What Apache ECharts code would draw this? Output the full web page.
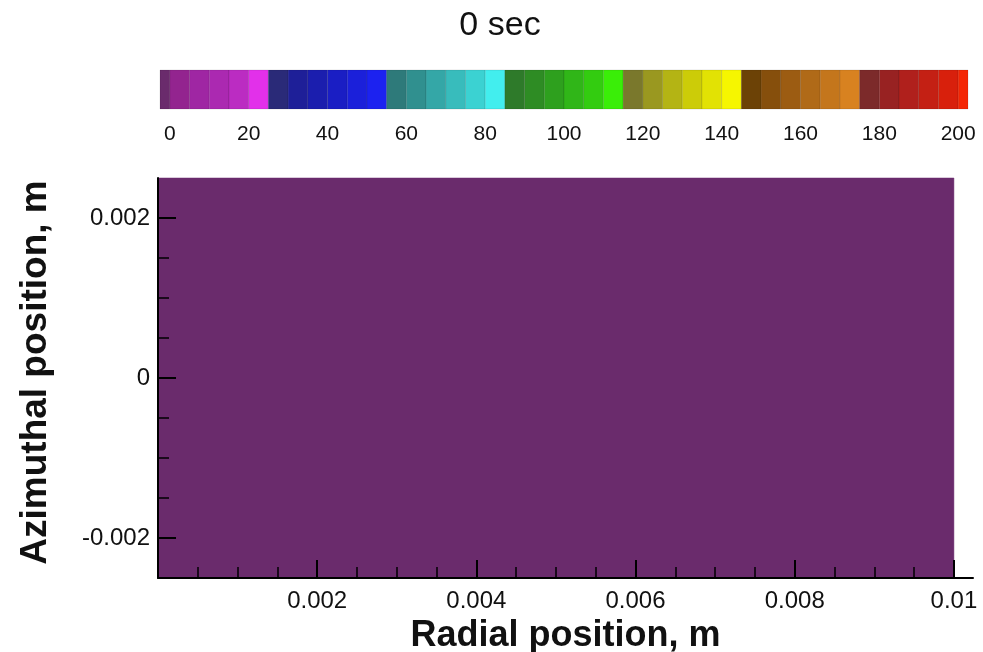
<!DOCTYPE html>
<html>
<head>
<meta charset="utf-8">
<script src="https://cdn.jsdelivr.net/npm/echarts@6/dist/echarts.min.js"></script>
<style>
html,body{margin:0;padding:0;background:#fff;}
#chart{width:983px;height:652px;}
</style>
</head>
<body>
<div id="chart"></div>
<script>
// ---- data ----
var titleText = '0 sec';
var radialEdges = [0, 0.01];               // m
var azimuthalEdges = [-0.0025, 0.0025];    // m
var fieldValues = [[0]];                   // value in each cell (rows: azimuthal, cols: radial)

// contour band edges (colour legend)
var bandEdges = [-2.5, 0, 5, 10, 15, 20, 25, 30, 35, 40, 45, 50, 55, 60, 65, 70, 75, 80, 85, 90, 95,
  100, 105, 110, 115, 120, 125, 130, 135, 140, 145, 150, 155, 160, 165, 170, 175, 180, 185, 190, 195, 200, 202.5];
var bandColors = [
  '#6a2b6c', '#93248f', '#9f26a3', '#ab29b1', '#bb2cc2', '#e230ea',
  '#2a2a78', '#1e1f98', '#1b1eae', '#1a1ec4', '#1b20da', '#1c22f0',
  '#2e7a7a', '#30908f', '#34a7a7', '#38bcbc', '#3bd2d2', '#42eeee',
  '#2e7a2a', '#2e8c24', '#2ea01e', '#30b618', '#33cc10', '#3aee08',
  '#7a782c', '#9a9820', '#b4b414', '#cccc08', '#e2e204', '#f6f600',
  '#6c4206', '#864f0c', '#9c5c12', '#b06a18', '#c4761c', '#d88220',
  '#7c2a2a', '#982222', '#b0201c', '#c42014', '#d8200c', '#f42604'
];
var legendTicks = [0, 20, 40, 60, 80, 100, 120, 140, 160, 180, 200];

var xMajorTicks = [0.002, 0.004, 0.006, 0.008, 0.01];
var xMinorTicks = [0.0005, 0.001, 0.0015, 0.0025, 0.003, 0.0035, 0.0045, 0.005, 0.0055, 0.0065, 0.007, 0.0075, 0.0085, 0.009, 0.0095];
var yMajorTicks = [-0.002, 0, 0.002];
var yMinorTicks = [-0.0015, -0.001, -0.0005, 0.0005, 0.001, 0.0015];
var xName = 'Radial position, m';
var yName = 'Azimuthal position, m';

// ---- helpers ----
function colorFor(v) {
  for (var i = 0; i < bandColors.length; i++) {
    if (v <= bandEdges[i + 1]) return bandColors[i];
  }
  return bandColors[bandColors.length - 1];
}
var fieldData = [];
for (var r = 0; r < fieldValues.length; r++) {
  for (var c = 0; c < fieldValues[r].length; c++) {
    fieldData.push([radialEdges[c], radialEdges[c + 1], azimuthalEdges[r], azimuthalEdges[r + 1], fieldValues[r][c]]);
  }
}
var bandData = [];
for (var b = 0; b < bandColors.length; b++) {
  bandData.push([bandEdges[b], bandEdges[b + 1], b]);
}
function fmt(v) {
  if (Math.abs(v) < 1e-12) return '0';
  return String(+v.toFixed(4));
}

var FONT = '"Liberation Sans", Arial, Helvetica, sans-serif';
var chart = echarts.init(document.getElementById('chart'), null, {renderer: 'canvas'});
var option = {
  backgroundColor: '#ffffff',
  animation: false,
  title: {
    text: titleText,
    left: 495, top: 4,
    textAlign: 'center',
    textStyle: {fontFamily: FONT, fontSize: 34, fontWeight: 'normal', color: '#111'}
  },
  grid: [
    {left: 158, top: 178, width: 815, height: 400, containLabel: false, outerBoundsMode: 'none'},
    {left: 160, top: 70, width: 808, height: 39, containLabel: false, outerBoundsMode: 'none'}
  ],
  xAxis: [
    {
      type: 'value', gridIndex: 0, min: 0, max: 0.01024, z: 5,
      name: xName, nameLocation: 'middle', nameGap: 31,
      nameTextStyle: {fontFamily: FONT, fontSize: 36, fontWeight: 'bold', color: '#111'},
      axisLine: {show: true, onZero: false, lineStyle: {color: '#000', width: 2}},
      axisTick: {show: true, inside: true, length: 18, customValues: xMajorTicks, lineStyle: {color: '#000', width: 2}},
      axisLabel: {show: true, customValues: xMajorTicks, margin: 11, formatter: fmt,
        fontFamily: FONT, fontSize: 24, color: '#111'},
      splitLine: {show: false}
    },
    {
      type: 'value', gridIndex: 0, min: 0, max: 0.01024, position: 'bottom', z: 5,
      axisLine: {show: false, onZero: false},
      axisTick: {show: true, inside: true, length: 11, customValues: xMinorTicks, lineStyle: {color: '#000', width: 1.5}},
      axisLabel: {show: false},
      splitLine: {show: false}
    },
    {
      type: 'value', gridIndex: 1, min: -2.5, max: 202.5,
      axisLine: {show: false, onZero: false},
      axisTick: {show: false},
      axisLabel: {show: true, customValues: legendTicks, margin: 15,
        fontFamily: FONT, fontSize: 21, color: '#111'},
      splitLine: {show: false}
    }
  ],
  yAxis: [
    {
      type: 'value', gridIndex: 0, min: -0.0025, max: 0.0025, z: 5,
      name: yName, nameLocation: 'middle', nameGap: 104,
      nameTextStyle: {fontFamily: FONT, fontSize: 37, fontWeight: 'bold', color: '#111', padding: [0, 0, 0, 11]},
      axisLine: {show: true, onZero: false, lineStyle: {color: '#000', width: 2}},
      axisTick: {show: true, inside: true, length: 18, customValues: yMajorTicks, lineStyle: {color: '#000', width: 2}},
      axisLabel: {show: true, customValues: yMajorTicks, margin: 8, formatter: fmt,
        fontFamily: FONT, fontSize: 24, color: '#111'},
      splitLine: {show: false}
    },
    {
      type: 'value', gridIndex: 0, min: -0.0025, max: 0.0025, position: 'left', z: 5,
      axisLine: {show: false, onZero: false},
      axisTick: {show: true, inside: true, length: 11, customValues: yMinorTicks, lineStyle: {color: '#000', width: 1.5}},
      axisLabel: {show: false},
      splitLine: {show: false}
    },
    {
      type: 'value', gridIndex: 1, min: 0, max: 1, show: false
    }
  ],
  series: [
    {
      type: 'custom', xAxisIndex: 0, yAxisIndex: 0, z: 1,
      data: fieldData,
      renderItem: function (params, api) {
        var p0 = api.coord([api.value(0), api.value(3)]);
        var p1 = api.coord([api.value(1), api.value(2)]);
        var col = colorFor(api.value(4));
        return {type: 'rect', shape: {x: p0[0], y: p0[1], width: p1[0] - p0[0], height: p1[1] - p0[1]},
          style: {fill: col, stroke: col, lineWidth: 0.5}};
      }
    },
    {
      type: 'custom', xAxisIndex: 2, yAxisIndex: 2,
      data: bandData,
      renderItem: function (params, api) {
        var p0 = api.coord([api.value(0), 1]);
        var p1 = api.coord([api.value(1), 0]);
        var col = bandColors[api.value(2)];
        return {type: 'rect', shape: {x: p0[0], y: p0[1], width: p1[0] - p0[0], height: p1[1] - p0[1]},
          style: {fill: col, stroke: 'rgba(0,0,0,0.18)', lineWidth: 0.6}};
      }
    }
  ]
};
chart.setOption(option);
</script>
</body>
</html>
